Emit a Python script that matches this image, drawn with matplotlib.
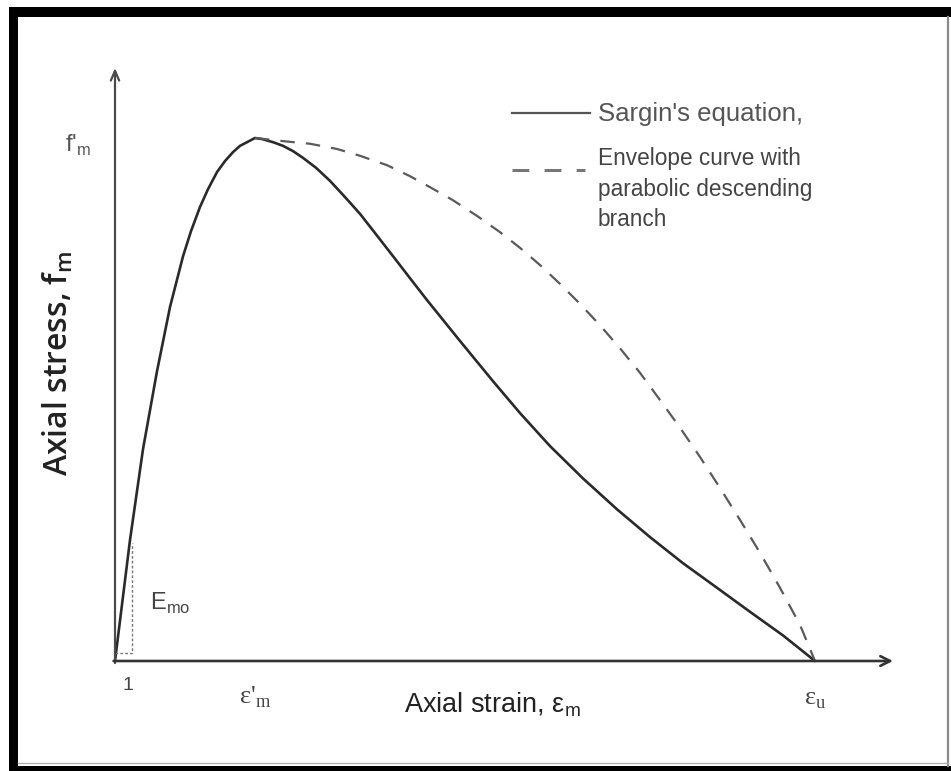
import numpy as np
import matplotlib.pyplot as plt
from matplotlib.patches import Rectangle
from matplotlib.lines import Line2D

# normalised strain (eps / eps'_m) and stress (f / f'_m)
sargin_strain = [0.000, 0.107, 0.200, 0.300, 0.393, 0.486, 0.543, 0.607, 0.664,
                 0.729, 0.786, 0.843, 0.893, 0.943, 1.000, 1.050, 1.129, 1.200,
                 1.271, 1.343, 1.436, 1.536, 1.643, 1.750, 1.864, 1.986, 2.107,
                 2.229, 2.464, 2.700, 2.893, 3.107, 3.343, 3.586, 3.821, 4.057,
                 4.300, 4.536, 4.771, 5.000]
sargin_stress = [0.000, 0.231, 0.405, 0.554, 0.677, 0.774, 0.822, 0.868, 0.902,
                 0.935, 0.956, 0.973, 0.985, 0.992, 1.000, 0.998, 0.992, 0.985,
                 0.975, 0.962, 0.943, 0.918, 0.887, 0.855, 0.816, 0.774, 0.732,
                 0.690, 0.612, 0.535, 0.474, 0.411, 0.349, 0.290, 0.237, 0.187,
                 0.140, 0.094, 0.049, 0.000]

env_strain = [1.000, 1.200, 1.393, 1.586, 1.750, 1.943, 2.107, 2.250, 2.414,
              2.586, 2.750, 2.893, 3.036, 3.179, 3.321, 3.464, 3.607, 3.750,
              3.893, 4.036, 4.179, 4.321, 4.464, 4.607, 4.750, 4.893, 5.000]
env_stress = [1.000, 0.994, 0.989, 0.979, 0.966, 0.948, 0.927, 0.906, 0.881,
              0.851, 0.820, 0.790, 0.757, 0.721, 0.683, 0.642, 0.598, 0.551,
              0.499, 0.446, 0.390, 0.331, 0.270, 0.207, 0.140, 0.069, 0.000]

# initial modulus triangle
emo_run = 0.121
emo_rise = 0.226
eps_u = 5.0

W, H = 951, 771
fig = plt.figure(figsize=(W / 100, H / 100), dpi=100)
fig.patch.set_facecolor('white')

# axes cover the whole canvas, origin at px (115, 661)
ax = fig.add_axes([0, 0, 1, 1])
ax.set_xlim(-115 / 140, (W - 115) / 140)
ax.set_ylim((661 - H) / 523, 661 / 523)
ax.axis('off')

def fx(px):
    return px / W

def fy(py):
    return 1 - py / H

# picture border
fig.add_artist(Rectangle((fx(9), fy(771)), fx(9), fy(7) - fy(771), transform=fig.transFigure,
                         color='black', lw=0))
fig.add_artist(Rectangle((fx(9), fy(17)), 1 - fx(9), fy(7) - fy(17), transform=fig.transFigure,
                         color='black', lw=0))
fig.add_artist(Rectangle((fx(9), 0), 1 - fx(9), fy(766), transform=fig.transFigure,
                         color='black', lw=0))
fig.add_artist(Line2D([fx(948), fx(948)], [fy(766), fy(17)], transform=fig.transFigure,
                      color='#8a8a8a', lw=1.6))
fig.add_artist(Line2D([fx(18), fx(948)], [fy(763), fy(763)], transform=fig.transFigure,
                      color='#b0b0b0', lw=1.0))

# coordinate arrows
ax.annotate('', xy=(0, (661 - 68) / 523), xytext=(0, -0.004),
            arrowprops=dict(arrowstyle='->,head_length=0.7,head_width=0.3',
                            color='#4a4a4a', lw=1.6, shrinkA=0, shrinkB=0))
ax.annotate('', xy=((893 - 115) / 140, 0), xytext=(-0.01, 0),
            arrowprops=dict(arrowstyle='->,head_length=0.7,head_width=0.35',
                            color='#333333', lw=1.9, shrinkA=0, shrinkB=0))

# curves
ax.plot(sargin_strain, sargin_stress, color='#2a2a2a', lw=1.9,
        solid_capstyle='round', solid_joinstyle='round')
env, = ax.plot(env_strain, env_stress, color='#5a5a5a', lw=1.6)
env.set_dashes((6.5, 5))

# E_mo triangle
ax.plot([0, emo_run, emo_run], [0.015, 0.015, emo_rise], color='#777777', lw=1.0,
        linestyle=(0, (2, 1.5)))

# legend
lx0, lx1 = fx(512), fx(590)
fig.add_artist(Line2D([lx0, lx1], [fy(113), fy(113)], transform=fig.transFigure,
                      color='#555555', lw=1.6))
dl = Line2D([lx0, fx(585)], [fy(170), fy(170)], transform=fig.transFigure,
            color='#777777', lw=2.2)
dl.set_dashes((5.5, 5))
fig.add_artist(dl)
fig.text(fx(598), fy(114), "Sargin's equation,", fontsize=18.5, color='#555555',
         family='Liberation Sans', va='center', ha='left')
fig.text(fx(598), fy(147), 'Envelope curve with\nparabolic descending\nbranch',
         fontsize=16.3, color='#444444', family='Liberation Sans', va='top', ha='left',
         linespacing=1.42)

# labels
ax.text((78 - 115) / 140, (661 - 145) / 523, "f'$_\\mathregular{m}$", fontsize=17,
        color='#555555', family='Liberation Sans', ha='center', va='center')
ax.text((128 - 115) / 140, (661 - 685) / 523, '1', fontsize=14, color='#444444',
        family='Liberation Sans', ha='center', va='center')
ax.text((150 - 115) / 140, (661 - 603) / 523, 'E$_\\mathregular{mo}$', fontsize=17,
        color='#444444', family='Liberation Sans', ha='left', va='center')
ax.text(1.0, (661 - 697) / 523, "ε'$_\\mathregular{m}$", fontsize=19, color='#444444',
        family='Liberation Serif', ha='center', va='center')
ax.text(eps_u, (661 - 700) / 523, 'ε$_\\mathregular{u}$', fontsize=19, color='#444444',
        family='Liberation Serif', ha='center', va='center')

fig.text(fx(492), fy(705), 'Axial strain, ε$_\\mathregular{m}$', fontsize=19.5,
         color='#222222', family='Liberation Sans', ha='center', va='center')
fig.text(fx(58), fy(363), 'Axial stress, f$_\\mathregular{m}$', fontsize=23,
         color='#222222', family='Open Sans', weight='semibold', rotation=90,
         ha='center', va='center')

fig.savefig('out.png', dpi=100, facecolor='white')
